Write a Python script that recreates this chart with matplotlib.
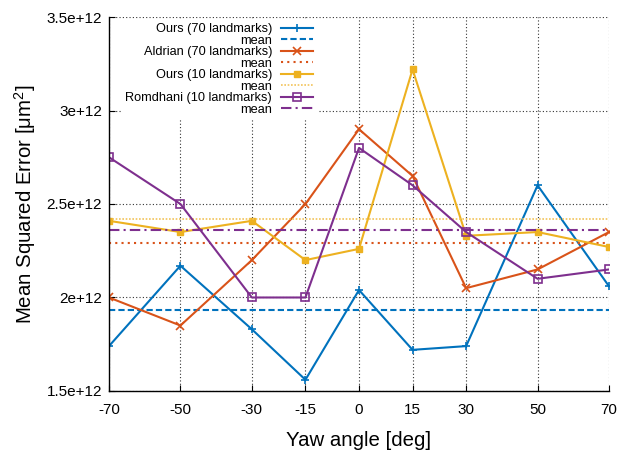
import matplotlib
matplotlib.use("Agg")
import matplotlib.pyplot as plt
from matplotlib.ticker import FixedLocator

plt.rcParams['font.family'] = ['Liberation Sans', 'DejaVu Sans']
plt.rcParams['mathtext.fontset'] = 'custom'
plt.rcParams['mathtext.rm'] = 'Liberation Sans'
plt.rcParams['mathtext.it'] = 'Liberation Sans:italic'

angles = [-70, -50, -30, -15, 0, 15, 30, 50, 70]
ours70 = [1.74, 2.17, 1.83, 1.56, 2.04, 1.72, 1.74, 2.60, 2.06]
aldrian70 = [2.00, 1.85, 2.20, 2.50, 2.90, 2.65, 2.05, 2.15, 2.35]
ours10 = [2.41, 2.35, 2.41, 2.20, 2.26, 3.22, 2.33, 2.35, 2.27]
romdhani10 = [2.75, 2.50, 2.00, 2.00, 2.80, 2.60, 2.35, 2.10, 2.15]
means = [1.933, 2.293, 2.421, 2.361]
scale = 1e12
yticks = [1.5, 2.0, 2.5, 3.0, 3.5]
ytick_labels = ['1.5e+12', '2e+12', '2.5e+12', '3e+12', '3.5e+12']

c_blue = '#0072BD'
c_orange = '#D95319'
c_yellow = '#EDB120'
c_purple = '#7E2F8E'

fig = plt.figure(figsize=(6.25, 4.55), dpi=100)
ax = fig.add_axes([0.1744, 0.1407, 0.8, 0.8219])

def sc(v):
    return [x * scale for x in v]

x0, x1 = angles[0], angles[-1]
ax.plot(angles, sc(ours70), color=c_blue, lw=1.5, marker='+', ms=6, mew=1.2, label='Ours (70 landmarks)')
ax.plot([x0, x1], [means[0] * scale] * 2, color=c_blue, lw=1.5, ls=(0, (3, 1.5)), label='mean')
ax.plot(angles, sc(aldrian70), color=c_orange, lw=1.5, marker='x', ms=6, mew=1.2, label='Aldrian (70 landmarks)')
ax.plot([x0, x1], [means[1] * scale] * 2, color=c_orange, lw=1.5, ls=(0, (1, 2)), label='mean')
ax.plot(angles, sc(ours10), color=c_yellow, lw=1.5, marker='s', ms=5, mew=1.0, label='Ours (10 landmarks)')
ax.plot([x0, x1], [means[2] * scale] * 2, color='#F2C45A', lw=1.2, ls=(0, (1, 1)), label='mean')
ax.plot(angles, sc(romdhani10), color=c_purple, lw=1.5, marker='s', ms=6, mew=1.2, mfc='none', label='Romdhani (10 landmarks)')
ax.plot([x0, x1], [means[3] * scale] * 2, color=c_purple, lw=1.5, ls=(0, (5, 2, 1, 2)), label='mean')

ax.set_xlim(x0, x1)
ax.set_ylim(yticks[0] * scale, yticks[-1] * scale)
ax.xaxis.set_major_locator(FixedLocator(angles))
ax.set_xticklabels([str(a) for a in angles])
ax.yaxis.set_major_locator(FixedLocator([t * scale for t in yticks]))
ax.set_yticklabels(ytick_labels)
ax.tick_params(direction='in', length=4, width=0.8, labelsize=11)
ax.tick_params(axis='x', pad=9)
ax.tick_params(axis='y', pad=5)
ax.grid(True, ls=(0, (1, 2)), color='#333333', lw=0.8)
ax.set_axisbelow(True)
for s in ['top', 'right']:
    ax.spines[s].set_visible(False)
for s in ['left', 'bottom']:
    ax.spines[s].set_linewidth(1.0)

ax.set_xlabel('Yaw angle [deg]', fontsize=14.7, labelpad=10)
ax.set_ylabel('Mean Squared Error [μm$^2$]', fontsize=14.7, labelpad=6)

leg = ax.legend(loc='upper left', bbox_to_anchor=(0.02, 1.0), fontsize=9.2, markerfirst=False,
                frameon=True, fancybox=False, framealpha=1, edgecolor='none', facecolor='white',
                labelspacing=-0.04, handlelength=2.5, handletextpad=0.7, borderpad=0.35,
                borderaxespad=0.15)
leg.set_zorder(5)

fig.savefig('out.png', dpi=100)
